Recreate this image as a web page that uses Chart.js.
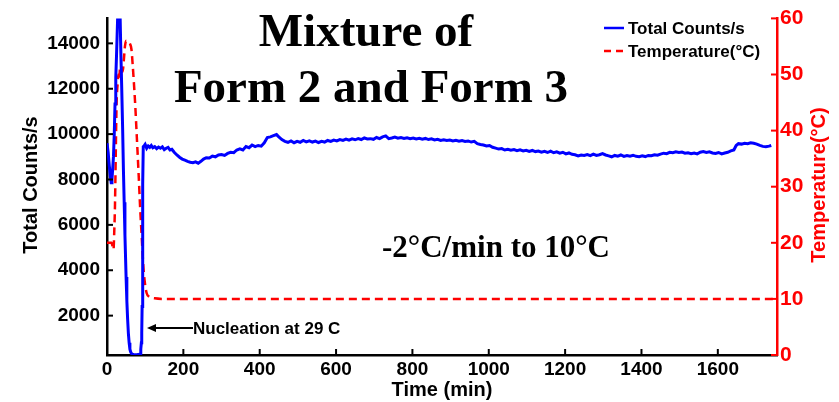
<!DOCTYPE html>
<html>
<head>
<meta charset="utf-8">
<script src="https://cdn.jsdelivr.net/npm/chart.js@4"></script>
<style>
  html, body { margin: 0; padding: 0; background: #fff; }
  #wrap { width: 839px; height: 402px; }
</style>
</head>
<body>
<div id="wrap"><canvas id="myChart" width="839" height="402"></canvas></div>
<script>
// counts (blue) - time in min, value in counts/s
const countTimes = [0, 3, 6, 9, 11, 13, 15, 17, 19, 21, 23, 25, 28, 30, 32, 34, 36, 38.5, 41, 43, 45, 47, 50, 52, 54, 56, 58, 60, 62, 64, 67, 70, 78, 85, 87, 88, 89, 90, 91, 92, 93, 94, 95, 98,
  100, 104, 108, 112, 116, 120, 125, 130, 135, 140, 145, 150, 155, 160, 165, 170, 176, 183, 190, 197, 204, 211, 218, 225, 232, 239, 246, 253, 260, 268, 276, 284, 292, 300,
  308, 316, 324, 332, 340, 348, 356, 364, 372, 380, 388, 396, 404, 412, 420, 428, 436, 444, 450, 458, 466, 474, 482, 490, 498, 506, 514, 522, 530, 538, 546, 554, 562, 570,
  578, 586, 594, 602, 610, 618, 626, 634, 642, 650, 658, 666, 674, 682, 690, 698, 706, 714, 722, 730, 738, 746, 754, 762, 770, 778, 786, 794, 802, 810, 818, 826, 834, 842,
  850, 858, 866, 874, 882, 890, 898, 906, 914, 922, 930, 938, 946, 954, 962, 970, 978, 986, 994, 1002, 1010, 1018, 1026, 1034, 1042, 1050, 1058, 1066, 1074, 1082, 1090,
  1098, 1106, 1114, 1122, 1130, 1138, 1146, 1154, 1162, 1170, 1178, 1186, 1194, 1202, 1210, 1218, 1226, 1234, 1242, 1250, 1258, 1266, 1274, 1282, 1290, 1298, 1306, 1314,
  1322, 1330, 1338, 1346, 1354, 1362, 1370, 1378, 1386, 1394, 1402, 1410, 1418, 1426, 1434, 1442, 1450, 1458, 1466, 1474, 1482, 1490, 1498, 1506, 1514, 1522, 1530, 1538,
  1546, 1554, 1562, 1570, 1578, 1586, 1594, 1602, 1610, 1618, 1626, 1634, 1642, 1648, 1654, 1662, 1670, 1678, 1686, 1694, 1702, 1710, 1718, 1726, 1734, 1740];
const counts = [9600, 9200, 8600, 8100, 7860, 8000, 8500, 9030, 10000, 11330, 12500, 13500, 15200, 16200, 16300, 15500, 13800, 12070, 10200, 8440, 7000, 5540, 3700, 2650, 1850, 1220, 800, 520, 400, 330, 300, 290, 280, 295, 320, 380, 520, 800, 1230, 2400, 5540, 7800, 9450, 9500,
  9550, 9380, 9480, 9420, 9500, 9400, 9450, 9360, 9430, 9380, 9440, 9320, 9380, 9420, 9300, 9330, 9200, 9080, 8980, 8900, 8850, 8800, 8760, 8740, 8780, 8720, 8800, 8900, 8960, 8950, 9030, 9000, 9080, 9100,
  9060, 9150, 9200, 9180, 9300, 9350, 9300, 9450, 9400, 9520, 9450, 9500, 9470, 9620, 9850, 9880, 9930, 9980, 9880, 9760, 9680, 9640, 9700, 9620, 9680, 9640, 9720, 9660, 9700, 9650, 9690, 9630, 9680, 9650,
  9720, 9680, 9740, 9700, 9760, 9720, 9780, 9730, 9790, 9750, 9800, 9760, 9830, 9790, 9800, 9770, 9850, 9800, 9880, 9920, 9800, 9830, 9870, 9820, 9850, 9810, 9840, 9800, 9830, 9790, 9820, 9780, 9810, 9760,
  9790, 9740, 9770, 9720, 9750, 9720, 9740, 9700, 9730, 9690, 9720, 9680, 9700, 9650, 9680, 9580, 9540, 9520, 9480, 9500, 9420, 9380, 9340, 9360, 9300, 9330, 9290, 9320, 9270, 9310, 9260,
  9290, 9240, 9280, 9230, 9250, 9200, 9240, 9190, 9250, 9180, 9220, 9160, 9200, 9130, 9170, 9110, 9090, 9040, 9080, 9060, 9100, 9050, 9120, 9060, 9090, 9140, 9080, 9040,
  9000, 9060, 9030, 9080, 9020, 9060, 9030, 9070, 9020, 9000, 9040, 9010, 9060, 9050, 9090, 9070, 9120, 9160, 9140, 9200, 9180, 9220, 9190, 9210, 9160, 9180, 9140, 9170,
  9130, 9200, 9230, 9190, 9220, 9170, 9150, 9190, 9130, 9170, 9200, 9260, 9300, 9500, 9580, 9560, 9600, 9580, 9620, 9600, 9560, 9500, 9460, 9440, 9470, 9500];

// temperature (red dashed) - time in min, value in deg C
const tempTimes = [0, 12, 15, 17, 19, 21, 23, 25, 28, 30, 32, 34, 36, 38, 41, 44, 47, 50, 55, 60, 64, 67, 70, 74, 78, 83, 87, 91, 95, 99, 104, 110, 125, 150, 1755];
const temps = [20, 20, 19.2, 18.8, 22, 27, 36, 44.5, 48.5, 50, 49, 51, 49.5, 51, 50.5, 52.5, 55, 56, 56, 55.5, 54.5, 52, 49, 44.5, 39, 32, 26, 21, 16, 13, 11, 10.4, 10.1, 10, 10];

const xTicks = [0, 200, 400, 600, 800, 1000, 1200, 1400, 1600];
const countTicks = [2000, 4000, 6000, 8000, 10000, 12000, 14000];
const tempTicks = [0, 10, 20, 30, 40, 50, 60];

const sans = "'Liberation Sans', Arial, sans-serif";
const serif = "'Liberation Serif', 'Times New Roman', serif";

const extras = {
  id: 'extras',
  afterDraw(chart) {
    const ctx = chart.ctx;
    const a = chart.chartArea;
    const sx = chart.scales.x, sy = chart.scales.y, st = chart.scales.y1;
    ctx.save();
    // inward ticks
    ctx.lineWidth = 2;
    ctx.strokeStyle = '#000';
    xTicks.forEach(v => {
      const p = sx.getPixelForValue(v);
      ctx.beginPath(); ctx.moveTo(p, a.bottom); ctx.lineTo(p, a.bottom - 6); ctx.stroke();
    });
    countTicks.forEach(v => {
      const p = sy.getPixelForValue(v);
      ctx.beginPath(); ctx.moveTo(a.left, p); ctx.lineTo(a.left + 6, p); ctx.stroke();
    });
    ctx.strokeStyle = '#f00';
    tempTicks.forEach(v => {
      const p = st.getPixelForValue(v);
      ctx.beginPath(); ctx.moveTo(a.right, p); ctx.lineTo(a.right - 6, p); ctx.stroke();
    });

    // title
    ctx.fillStyle = '#000';
    ctx.textAlign = 'center';
    ctx.textBaseline = 'alphabetic';
    ctx.font = 'bold 47px ' + serif;
    ctx.fillText('Mixture of', 366, 46);
    ctx.fillText('Form 2 and Form 3', 371, 102);
    ctx.font = 'bold 31px ' + serif;
    ctx.fillText('-2\u00B0C/min to 10\u00B0C', 496, 257);

    // axis titles
    ctx.font = 'bold 20px ' + sans;
    ctx.fillText('Time (min)', 442, 396);
    ctx.save();
    ctx.translate(37, 185);
    ctx.rotate(-Math.PI / 2);
    ctx.fillText('Total Counts/s', 0, 0);
    ctx.restore();
    ctx.save();
    ctx.fillStyle = '#f00';
    ctx.translate(825, 185);
    ctx.rotate(-Math.PI / 2);
    ctx.fillText('Temperature(\u00B0C)', 0, 0);
    ctx.restore();

    // legend
    ctx.lineWidth = 2.5;
    ctx.strokeStyle = '#00f';
    ctx.beginPath(); ctx.moveTo(604, 28); ctx.lineTo(624, 28); ctx.stroke();
    ctx.strokeStyle = '#f00';
    ctx.setLineDash([7, 5]);
    ctx.beginPath(); ctx.moveTo(604, 51); ctx.lineTo(624, 51); ctx.stroke();
    ctx.setLineDash([]);
    ctx.textAlign = 'left';
    ctx.textBaseline = 'middle';
    ctx.font = 'bold 17px ' + sans;
    ctx.fillText('Total Counts/s', 628, 29);
    ctx.fillText('Temperature(\u00B0C)', 628, 52);

    // annotation
    ctx.strokeStyle = '#000';
    ctx.fillStyle = '#000';
    ctx.lineWidth = 2;
    ctx.beginPath(); ctx.moveTo(154, 328); ctx.lineTo(193, 328); ctx.stroke();
    ctx.beginPath(); ctx.moveTo(147, 328); ctx.lineTo(156, 324); ctx.lineTo(156, 332); ctx.closePath(); ctx.fill();
    ctx.font = 'bold 17px ' + sans;
    ctx.fillText('Nucleation at 29 C', 193, 329);
    ctx.restore();
  }
};

const plain = v => String(v);

const ctx = document.getElementById('myChart').getContext('2d');
const myChart = new Chart(ctx, {
  type: 'line',
  data: {
    datasets: [{
      label: 'Total Counts/s',
      data: countTimes.map((t, i) => ({ x: t, y: counts[i] })),
      yAxisID: 'y',
      borderColor: '#0000ff',
      borderWidth: 3,
      pointRadius: 0,
      fill: false,
      tension: 0
    }, {
      label: 'Temperature(\u00B0C)',
      data: tempTimes.map((t, i) => ({ x: t, y: temps[i] })),
      yAxisID: 'y1',
      borderColor: '#ff0000',
      borderWidth: 2.5,
      borderDash: [8, 5],
      pointRadius: 0,
      fill: false,
      cubicInterpolationMode: 'monotone'
    }]
  },
  options: {
    responsive: false,
    animation: false,
    layout: { padding: { top: 13 } },
    plugins: { legend: { display: false }, tooltip: { enabled: false } },
    scales: {
      x: {
        type: 'linear', min: 0, max: 1755,
        afterBuildTicks: s => { s.ticks = xTicks.map(v => ({ value: v })); },
        afterFit: s => { s.height = 47; },
        grid: { display: false, drawTicks: false },
        border: { color: '#000', width: 2.5 },
        ticks: { color: '#000', padding: 3, maxRotation: 0, callback: plain, font: { family: sans, size: 19, weight: 'bold' } }
      },
      y: {
        position: 'left', min: 265, max: 15100,
        afterBuildTicks: s => { s.ticks = countTicks.map(v => ({ value: v })); },
        afterFit: s => { s.width = 107; },
        grid: { display: false, drawTicks: false },
        border: { color: '#000', width: 2.5 },
        ticks: { color: '#000', padding: 7, callback: plain, font: { family: sans, size: 19, weight: 'bold' } }
      },
      y1: {
        position: 'right', min: 0, max: 60,
        afterBuildTicks: s => { s.ticks = tempTicks.map(v => ({ value: v })); },
        afterFit: s => { s.width = 62; },
        grid: { display: false, drawTicks: false },
        border: { color: '#f00', width: 2.5 },
        ticks: { color: '#f00', padding: 3, callback: plain, font: { family: sans, size: 21, weight: 'bold' } }
      }
    }
  },
  plugins: [extras]
});
</script>
</body>
</html>
